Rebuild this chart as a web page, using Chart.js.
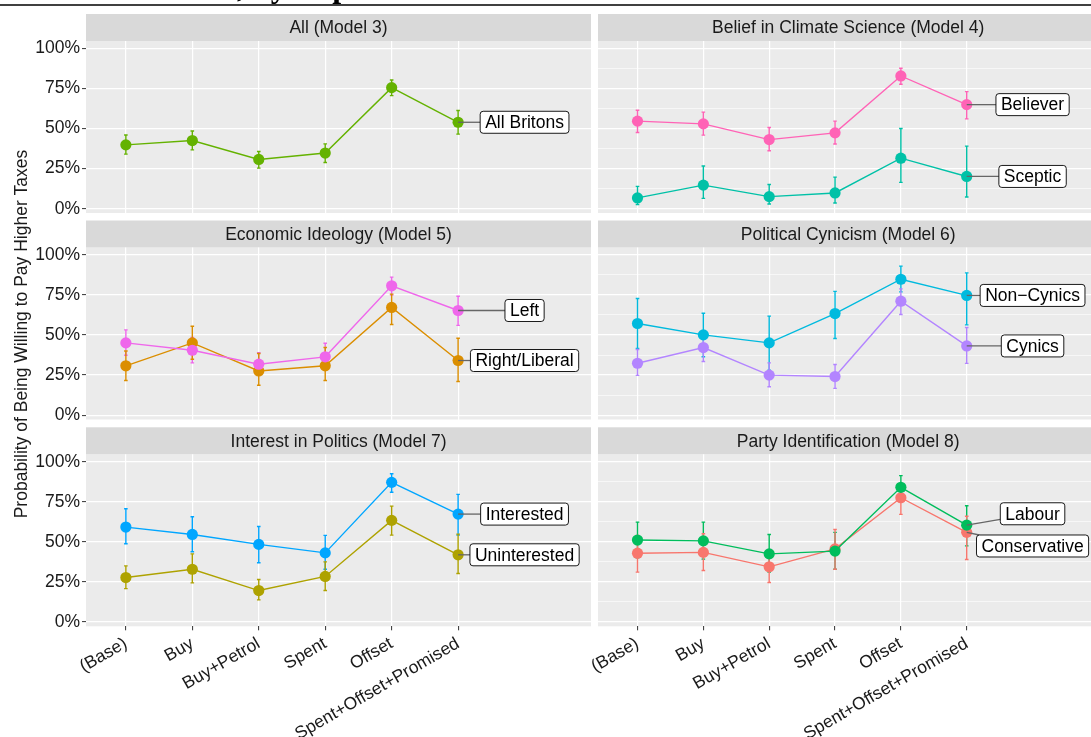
<!DOCTYPE html>
<html>
<head>
<meta charset="utf-8">
<script src="https://cdn.jsdelivr.net/npm/chart.js@4.4.1/dist/chart.umd.min.js"></script>
<style>
html, body { margin: 0; padding: 0; background: #ffffff; width: 1091px; height: 737px; overflow: hidden; }
canvas.layer { position: absolute; left: 0; top: 0; }
</style>
</head>
<body>
<script>
// categories on the x axis (same for every panel)
const categories = ['(Base)', 'Buy', 'Buy+Petrol', 'Spent', 'Offset', 'Spent+Offset+Promised'];
const yMajorTicks = [0, 25, 50, 75, 100];
const yMinorTicks = [12.5, 37.5, 62.5, 87.5];

// All (Model 3)
const allBritons = [39.8, 42.5, 30.7, 34.7, 75.5, 53.9];
const allBritonsLow = [34, 36.7, 25.3, 28.8, 70.5, 46.5];
const allBritonsHigh = [46, 48.5, 35.7, 40.4, 80.3, 61.2];

// Belief in Climate Science (Model 4)
const believer = [54.6, 52.9, 43.1, 47.3, 82.8, 64.9];
const believerLow = [47.5, 45.9, 36.1, 40.3, 77.6, 56];
const believerHigh = [61.4, 60.2, 50.6, 54.6, 87.6, 73];
const sceptic = [6.7, 14.7, 7.5, 9.8, 31.5, 20.1];
const scepticLow = [2.5, 6.4, 2.9, 3.5, 16.4, 7.3];
const scepticHigh = [13.9, 26.6, 15.1, 19.7, 50, 39];

// Economic Ideology (Model 5)
const left = [45.1, 40.5, 31.8, 36.4, 80.7, 65.3];
const leftLow = [37.4, 32.6, 25, 28, 74.9, 56];
const leftHigh = [53.2, 48.5, 38.9, 44.9, 86.1, 74.2];
const rightLiberal = [30.8, 45.1, 27.6, 30.8, 67.2, 34.1];
const rightLiberalLow = [21.6, 34.9, 18.7, 21.6, 56.6, 21];
const rightLiberalHigh = [40, 55.5, 38.5, 42.2, 75.5, 48];

// Political Cynicism (Model 6)
const nonCynics = [57.2, 50.1, 45.1, 63.4, 84.8, 74.7];
const nonCynicsLow = [41.6, 36.4, 28.1, 47.8, 76.9, 56.3];
const nonCynicsHigh = [72.8, 63.6, 61.8, 77.2, 93, 88.8];
const cynics = [32.4, 42.2, 25, 24.1, 71.1, 43.2];
const cynicsLow = [24.8, 33.5, 17.7, 16.7, 62.8, 32.3];
const cynicsHigh = [41, 51, 32.6, 31.6, 78.8, 54.7];

// Interest in Politics (Model 7)
const interested = [59.2, 54.6, 48.4, 43.1, 87.1, 67.3];
const interestedLow = [48.8, 43.8, 36.9, 32.9, 80.9, 54.2];
const interestedHigh = [70.6, 65.6, 59.6, 54, 92.5, 79.6];
const uninterested = [27.7, 32.9, 19.6, 28.4, 63.4, 41.9];
const uninterestedLow = [20.8, 24.4, 13.8, 19.6, 54.2, 30.2];
const uninterestedHigh = [35, 42.5, 26.5, 37.5, 72.3, 54.8];

// Party Identification (Model 8)
const labour = [51.1, 50.6, 42.5, 44.2, 84, 60.4];
const labourLow = [40, 39.2, 31.1, 32.9, 77.5, 47.5];
const labourHigh = [62.3, 62.3, 54.6, 55.9, 91.3, 72.5];
const conservative = [42.9, 43.4, 34.4, 45.6, 77.5, 55.9];
const conservativeLow = [31.1, 32.1, 24.6, 32.9, 67.1, 39];
const conservativeHigh = [54, 55, 44, 57.7, 85, 66];

const panels = [
    { title: 'All (Model 3)', col: 0, row: 0, series: [
        { name: 'All Britons', color: '#64B200', values: allBritons, low: allBritonsLow, high: allBritonsHigh }
    ] },
    { title: 'Belief in Climate Science (Model 4)', col: 1, row: 0, series: [
        { name: 'Believer', color: '#FF63B6', values: believer, low: believerLow, high: believerHigh },
        { name: 'Sceptic', color: '#00C1A7', values: sceptic, low: scepticLow, high: scepticHigh }
    ] },
    { title: 'Economic Ideology (Model 5)', col: 0, row: 1, series: [
        { name: 'Left', color: '#EF67EB', values: left, low: leftLow, high: leftHigh },
        { name: 'Right/Liberal', color: '#DB8E00', values: rightLiberal, low: rightLiberalLow, high: rightLiberalHigh }
    ] },
    { title: 'Political Cynicism (Model 6)', col: 1, row: 1, series: [
        { name: 'Non\u2212Cynics', color: '#00BADE', values: nonCynics, low: nonCynicsLow, high: nonCynicsHigh },
        { name: 'Cynics', color: '#B385FF', values: cynics, low: cynicsLow, high: cynicsHigh }
    ] },
    { title: 'Interest in Politics (Model 7)', col: 0, row: 2, series: [
        { name: 'Interested', color: '#00A6FF', values: interested, low: interestedLow, high: interestedHigh },
        { name: 'Uninterested', color: '#AEA200', values: uninterested, low: uninterestedLow, high: uninterestedHigh }
    ] },
    { title: 'Party Identification (Model 8)', col: 1, row: 2, series: [
        { name: 'Labour', color: '#00BD5C', values: labour, low: labourLow, high: labourHigh, labelY: 67.5 },
        { name: 'Conservative', color: '#F8766D', values: conservative, low: conservativeLow, high: conservativeHigh, labelY: 47.4 }
    ] }
];

// page geometry
const W = 1104, H = 737;
const colLeft = [86, 598];
const plotWidth = 505;
const rowTop = [41, 247.5, 454.3];
const plotHeight = 172;
const stripHeight = 27;
const fontFamily = '"Liberation Sans", Arial, Helvetica, sans-serif';
const textColor = '#1a1a1a';

Chart.defaults.font.family = fontFamily;
Chart.defaults.font.size = 17.5;
Chart.defaults.color = textColor;

const panelPlugin = {
    id: 'panelBg',
    beforeDraw(chart) {
        const { ctx, chartArea: a } = chart;
        ctx.save();
        ctx.fillStyle = '#EBEBEB';
        ctx.fillRect(a.left, a.top, a.right - a.left, a.bottom - a.top);
        ctx.fillStyle = '#D9D9D9';
        ctx.fillRect(a.left, a.top - stripHeight, a.right - a.left, stripHeight);
        ctx.fillStyle = textColor;
        ctx.font = '17.5px ' + fontFamily;
        ctx.textAlign = 'center';
        ctx.textBaseline = 'middle';
        ctx.fillText(chart.options.plugins.panelBg.title, (a.left + a.right) / 2, a.top - stripHeight / 2 + 1);
        ctx.restore();
    }
};

const errorBarPlugin = {
    id: 'errorBars',
    beforeDatasetsDraw(chart) {
        const { ctx, scales: { x, y } } = chart;
        chart.data.datasets.forEach(ds => {
            ctx.save();
            ctx.strokeStyle = ds.borderColor;
            ctx.lineWidth = 1.4;
            ds.errLow.forEach((lo, i) => {
                const px = x.getPixelForValue(i + 1);
                const y0 = y.getPixelForValue(lo);
                const y1 = y.getPixelForValue(ds.errHigh[i]);
                ctx.beginPath();
                ctx.moveTo(px, y0); ctx.lineTo(px, y1);
                ctx.moveTo(px - 1.8, y0); ctx.lineTo(px + 1.8, y0);
                ctx.moveTo(px - 1.8, y1); ctx.lineTo(px + 1.8, y1);
                ctx.stroke();
            });
            ctx.restore();
        });
    }
};

const labelPlugin = {
    id: 'seriesLabels',
    afterDatasetsDraw(chart) {
        const { ctx, scales: { x, y } } = chart;
        ctx.save();
        ctx.font = '17.5px ' + fontFamily;
        chart.data.datasets.forEach(ds => {
            const last = ds.data[ds.data.length - 1];
            const px = x.getPixelForValue(last.x), py = y.getPixelForValue(last.y);
            const cx = x.getPixelForValue(7);
            const cy = y.getPixelForValue(ds.labelY != null ? ds.labelY : last.y);
            const bw = ctx.measureText(ds.label).width + 10, bh = 22;
            const bx = cx - bw / 2, by = cy - bh / 2;
            // segment from point to box edge
            const dx = cx - px, dy = cy - py;
            let t = (bx - px) / dx;
            let ey = py + dy * t;
            if (ey < by || ey > by + bh) {
                const edge = dy > 0 ? by : by + bh;
                t = (edge - py) / dy;
            }
            ctx.strokeStyle = '#666666';
            ctx.lineWidth = 1.3;
            ctx.beginPath();
            ctx.moveTo(px, py);
            ctx.lineTo(px + dx * t, py + dy * t);
            ctx.stroke();
            ctx.beginPath();
            ctx.roundRect(bx, by, bw, bh, 3);
            ctx.fillStyle = '#ffffff';
            ctx.fill();
            ctx.strokeStyle = '#000000';
            ctx.lineWidth = 0.9;
            ctx.stroke();
            ctx.fillStyle = '#000000';
            ctx.textAlign = 'center';
            ctx.textBaseline = 'middle';
            ctx.fillText(ds.label, cx, cy + 1);
        });
        ctx.restore();
    }
};

const pageTextPlugin = {
    id: 'pageText',
    afterDraw(chart) {
        const ctx = chart.ctx;
        ctx.save();
        // cut-off heading above the figure
        ctx.strokeStyle = '#000000';
        ctx.lineWidth = 1.6;
        ctx.beginPath();
        ctx.moveTo(0, 5); ctx.lineTo(W, 5);
        ctx.stroke();
        ctx.fillStyle = '#000000';
        ctx.font = 'bold 32px "Liberation Serif", "Times New Roman", serif';
        ctx.textAlign = 'left';
        ctx.textBaseline = 'alphabetic';
        ctx.fillText(', by Experimental Condition', 237, -3);
        // shared y axis title
        ctx.translate(22, 334);
        ctx.rotate(-Math.PI / 2);
        ctx.font = '17.5px ' + fontFamily;
        ctx.textAlign = 'center';
        ctx.textBaseline = 'middle';
        ctx.fillStyle = textColor;
        ctx.fillText('Probability of Being Willing to Pay Higher Taxes', 0, 0);
        ctx.restore();
    }
};

panels.forEach((p, idx) => {
    const canvas = document.createElement('canvas');
    canvas.width = W;
    canvas.height = H;
    canvas.className = 'layer';
    document.body.appendChild(canvas);

    const plotLeft = colLeft[p.col], plotTop = rowTop[p.row];
    const isLeft = p.col === 0, isBottom = p.row === 2;
    const yAxisW = isLeft ? 60 : 0;
    const xAxisH = isBottom ? H - plotTop - plotHeight : 0;

    new Chart(canvas, {
        type: 'line',
        data: {
            datasets: p.series.map(s => ({
                label: s.name,
                data: s.values.map((v, i) => ({ x: i + 1, y: v })),
                borderColor: s.color,
                backgroundColor: s.color,
                borderWidth: 1.4,
                pointRadius: 5.6,
                pointBorderWidth: 0,
                pointBackgroundColor: s.color,
                tension: 0,
                errLow: s.low,
                errHigh: s.high,
                labelY: s.labelY
            }))
        },
        options: {
            responsive: false,
            animation: false,
            devicePixelRatio: 1,
            layout: {
                padding: {
                    left: plotLeft - yAxisW,
                    right: W - plotLeft - plotWidth,
                    top: plotTop,
                    bottom: H - plotTop - plotHeight - xAxisH
                }
            },
            plugins: {
                legend: { display: false },
                tooltip: { enabled: false },
                panelBg: { title: p.title }
            },
            scales: {
                x: {
                    type: 'linear',
                    min: 0.4,
                    max: 8,
                    afterBuildTicks: scale => { scale.ticks = categories.map((c, i) => ({ value: i + 1 })); },
                    afterFit: scale => { scale.height = xAxisH; },
                    border: { display: false },
                    grid: {
                        color: '#ffffff',
                        lineWidth: 1.2,
                        drawTicks: isBottom,
                        tickLength: 4,
                        tickColor: '#333333',
                        tickWidth: 1
                    },
                    ticks: {
                        display: isBottom,
                        autoSkip: false,
                        minRotation: 30,
                        maxRotation: 30,
                        padding: 3,
                        color: textColor,
                        callback: v => categories[v - 1]
                    }
                },
                y: {
                    type: 'linear',
                    min: -2.7,
                    max: 104.6,
                    afterBuildTicks: scale => {
                        scale.ticks = yMajorTicks.concat(yMinorTicks).sort((a, b) => a - b).map(v => ({ value: v }));
                    },
                    afterFit: scale => { scale.width = yAxisW; },
                    border: { display: false },
                    grid: {
                        color: '#ffffff',
                        lineWidth: c => (c.tick && yMajorTicks.includes(c.tick.value)) ? 1.2 : 0.6,
                        drawTicks: isLeft,
                        tickLength: 4,
                        tickWidth: 1,
                        tickColor: c => (c.tick && yMajorTicks.includes(c.tick.value)) ? '#333333' : 'rgba(0,0,0,0)'
                    },
                    ticks: {
                        display: isLeft,
                        padding: 2,
                        color: textColor,
                        callback: v => yMajorTicks.includes(v) ? v + '%' : ''
                    }
                }
            }
        },
        plugins: idx === 0 ? [panelPlugin, errorBarPlugin, labelPlugin, pageTextPlugin] : [panelPlugin, errorBarPlugin, labelPlugin]
    });
});
</script>
</body>
</html>
